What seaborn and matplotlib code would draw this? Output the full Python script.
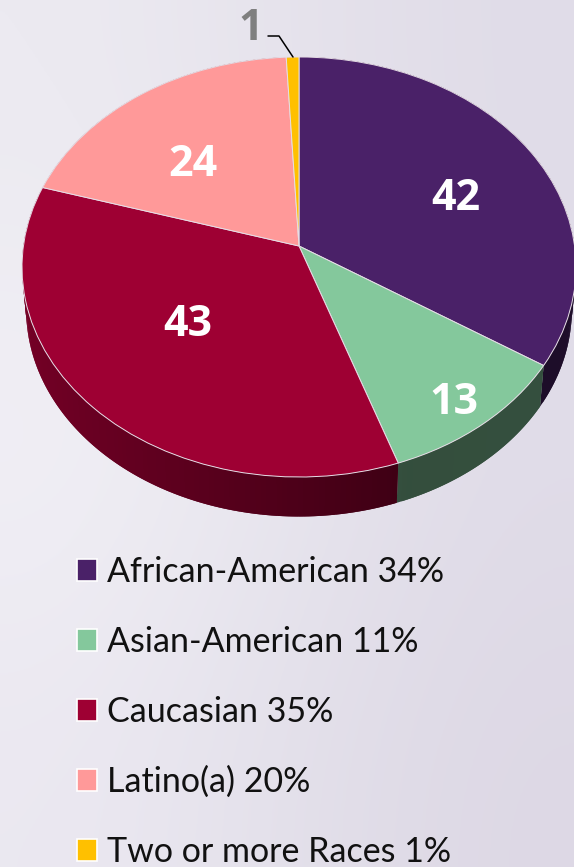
import numpy as np
import matplotlib
matplotlib.use("Agg")
import matplotlib.pyplot as plt
from matplotlib.collections import PolyCollection
from matplotlib.patches import Patch
from matplotlib.transforms import Transform
from matplotlib.colors import to_rgb
import seaborn as sns

categories = ["African-American", "Asian-American", "Caucasian", "Latino(a)", "Two or more Races"]
counts = [42, 13, 43, 24, 1]
percents = [34, 11, 35, 20, 1]
hex_colors = ["#4A2168", "#84C89C", "#9E0033", "#FF9999", "#FFC000"]

sns.set_theme(style="white")
plt.rcParams["font.family"] = ["Lato", "DejaVu Sans"]
palette = sns.color_palette(hex_colors)

W, H = 574, 867
fig = plt.figure(figsize=(W / 100, H / 100), dpi=100)
ax = fig.add_axes([0, 0, 1, 1])

# perspective of the tilted disc, from pie units to picture pixels
CX, CY, AX, AY, K = 299.0, 246.0, 275.6, 207.9, 0.10


def project(xy, scale=1.0, drop=0.0):
    x, y = xy[..., 0], xy[..., 1]
    d = 1 + K * y
    return np.stack([CX + scale * AX * x / d, CY + drop - scale * AY * y / d], axis=-1)


class DiscProjection(Transform):
    input_dims = output_dims = 2
    is_separable = False
    has_inverse = False

    def transform_non_affine(self, values):
        return project(np.asarray(values, float))


wedges, _ = ax.pie(counts, colors=palette, startangle=90, counterclock=False,
                   wedgeprops=dict(linewidth=0.7, edgecolor="#E6DDE6"))

ax.set_aspect("auto")
ax.set_xlim(0, W)
ax.set_ylim(H, 0)
ax.set_axis_off()

bg = np.array([["#ECEAF1", "#E6E3EC", "#E0DCE8"],
               ["#F2F1F6", "#E9E7EF", "#E1DDE9"],
               ["#EBE8F1", "#E3E0EA", "#DDD8E5"]])
bg_rgb = np.array([[to_rgb(c) for c in row] for row in bg])
ax.imshow(bg_rgb, extent=[0, W, H, 0], aspect="auto", interpolation="bicubic", zorder=0)
ax.set_xlim(0, W)
ax.set_ylim(H, 0)

# side wall of the disc: overlapping facets along each wedge's arc, so no seams show
polys, facecolors = [], []
for w, col in zip(wedges, palette):
    t = np.radians(np.linspace(w.theta1, w.theta2, max(int(abs(w.theta2 - w.theta1)), 2) + 1))
    rim = np.stack([np.cos(t), np.sin(t)], axis=-1)
    top = project(rim)
    bot = project(rim, scale=0.985, drop=43)
    n = len(t) - 1
    for i in range(n):
        j = min(i + 2, n)
        polys.append([top[i], top[j], bot[j], bot[i]])
        xm = rim[i:i + 2, 0].mean()
        shade = np.interp(xm, [-1, 0.36, 1], [0.74, 0.39, 0.40])
        facecolors.append(tuple(np.array(col) * shade))
side = PolyCollection(polys, facecolors=facecolors, edgecolors="none", zorder=2)
ax.add_collection(side)

proj = DiscProjection() + ax.transData
for w in wedges:
    w.set_transform(proj)
    w.set_zorder(3)

label_xy = [(456, 199), (454, 402), (188, 325), (193, 165)]
for n, (lx, ly) in zip(counts[:4], label_xy):
    ax.text(lx, ly, str(n), color="white", fontsize=31, fontweight="bold",
            family="Open Sans", ha="center", va="center", zorder=5)

ax.text(251, 28, str(counts[4]), color="#7F7F7F", fontsize=31, fontweight="bold",
        family="Open Sans", ha="center", va="center", zorder=5)
ax.plot([268, 279, 293], [36, 36, 57], color="black", lw=1.1, zorder=5)

handles = [Patch(facecolor=c, edgecolor="white", linewidth=1.2) for c in palette]
labels = [f"{c} {p}%" for c, p in zip(categories, percents)]
fs = 24.5
px = fs * 100 / 72
ax.legend(handles, labels, loc="upper left",
          bbox_to_anchor=(77 / W, 1 - 556 / H), bbox_transform=ax.transAxes,
          frameon=False, fontsize=fs, borderpad=0, borderaxespad=0,
          handlelength=20 / px, handleheight=20 / px, handletextpad=10 / px,
          labelspacing=(72.0 - px) / px, labelcolor="#111111")

fig.savefig("out.png", dpi=100)
